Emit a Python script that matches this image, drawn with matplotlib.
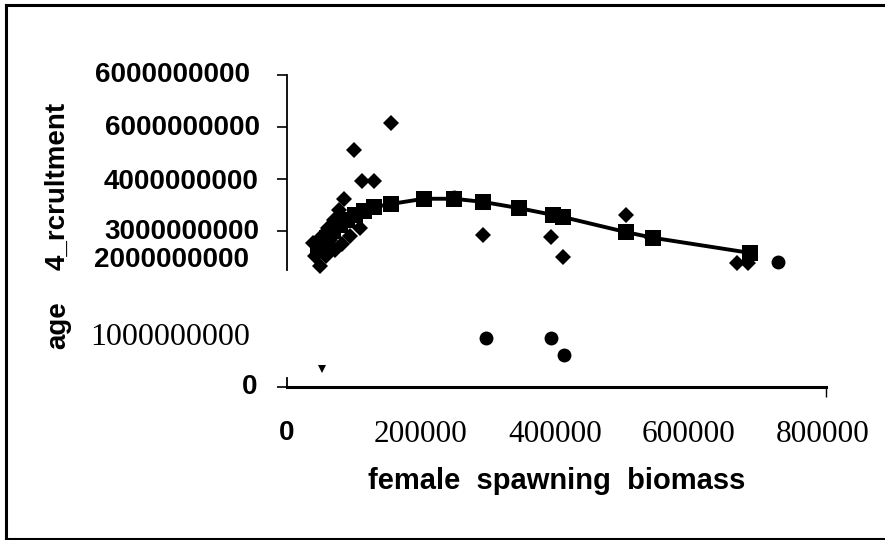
import numpy as np
import matplotlib.pyplot as plt
from matplotlib.lines import Line2D

# fitted curve (squares joined by a line)
fit_biomass = [46300, 52200, 59700, 68700, 79100, 89600, 101500, 114900, 129800, 155200,
               204500, 249200, 292500, 346300, 397000, 411900, 506000, 546300, 691000]
fit_recruit = [2.64e9, 2.75e9, 2.87e9, 3.00e9, 3.12e9, 3.21e9, 3.31e9, 3.39e9, 3.46e9, 3.52e9,
               3.62e9, 3.62e9, 3.56e9, 3.44e9, 3.31e9, 3.27e9, 2.98e9, 2.87e9, 2.58e9]

# observed (diamonds)
obs_biomass = [155000, 100000, 112000, 130000, 85000, 292500, 394000, 412000, 506000, 545000,
               672000, 688000, 38800, 41800, 49300, 52200, 61200, 70100, 77600, 58200,
               71600, 82100, 94000, 109000, 64200]
obs_recruit = [5.08e9, 4.56e9, 3.96e9, 3.96e9, 3.62e9, 2.92e9, 2.88e9, 2.50e9, 3.31e9, 2.87e9,
               2.38e9, 2.38e9, 2.77e9, 2.52e9, 2.33e9, 2.90e9, 3.06e9, 3.21e9, 3.40e9, 2.52e9,
               2.63e9, 2.75e9, 2.90e9, 3.06e9, 2.83e9]

# other series (circles)
circ_biomass = [249200, 297000, 394000, 413400, 732800]
circ_recruit = [3.65e9, 0.94e9, 0.94e9, 0.615e9, 2.40e9]

# odd point (triangle)
tri_biomass = [52200]
tri_recruit = [0.35e9]

xtick_vals = [0, 200000, 400000, 600000, 800000]
xtick_labels = ["0", "200000", "400000", "600000", "800000"]

# y labels as they appear in the scanned chart: (position, text, offset px, serif?)
ylabels = [(6.0e9, "6000000000", 37, False),
           (4.98e9, "6000000000", 27, False),
           (3.94e9, "4000000000", 29, False),
           (2.98e9, "3000000000", 28, False),
           (2.44e9, "2000000000", 38, False),
           (0.96e9, "1000000000", 37, True),
           (0.0, "0", 30, False)]
ytick_vals = [0, 3e9, 4e9, 5e9, 6e9]

sans = "Liberation Sans"
serif = "Liberation Serif"

fig = plt.figure(figsize=(8.85, 5.4), dpi=100)
ax = fig.add_axes([287 / 885, 153 / 540, (826 - 287) / 885, (387 - 75) / 540])

ax.plot(fit_biomass, fit_recruit, color="black", lw=2.8, marker="s", ms=12,
        markeredgewidth=0, zorder=3)
ax.plot(obs_biomass, obs_recruit, linestyle="none", color="black", marker="D", ms=8,
        markeredgewidth=0, zorder=4)
ax.plot(circ_biomass, circ_recruit, linestyle="none", color="black", marker="o", ms=10,
        markeredgewidth=0, zorder=4)
ax.plot(tri_biomass, tri_recruit, linestyle="none", color="black", marker="v", ms=6,
        markeredgewidth=0, zorder=4)

ax.set_xlim(0, 805000)
ax.set_ylim(0, 6e9)

for s in ["top", "right", "left"]:
    ax.spines[s].set_visible(False)
ax.spines["bottom"].set_linewidth(2.2)

# broken y axis line as in the scan
ax.axvline(0, ymin=0.375, ymax=1.0, color="black", lw=1.3, clip_on=False)
ax.axvline(0, ymin=0.0, ymax=0.03, color="black", lw=1.3, clip_on=False)

# y ticks (marks only), labels placed by hand
ax.set_yticks(ytick_vals)
ax.set_yticklabels([])
ax.tick_params(axis="y", direction="out", length=7, width=1.2)
for yv, txt, off, is_serif in ylabels:
    ax.annotate(txt, xy=(0, yv), xycoords=("axes fraction", "data"),
                xytext=(-off * 0.72, 0), textcoords="offset points",
                ha="right", va="center",
                fontfamily=serif if is_serif else sans,
                fontweight="normal" if is_serif else "bold",
                fontsize=23 if is_serif else 20)

# x ticks: labels only, small marks at both ends
ax.set_xticks(xtick_vals)
ax.set_xticklabels(xtick_labels)
ax.tick_params(axis="x", length=0, pad=24)
ax.set_xticks([0, 805000], minor=True)
ax.tick_params(axis="x", which="minor", direction="out", length=7, width=1.0)
for i, lab in enumerate(ax.get_xticklabels()):
    if i == 0:
        lab.set_fontfamily(sans)
        lab.set_fontweight("bold")
        lab.set_fontsize(20)
    else:
        lab.set_fontfamily(serif)
        lab.set_fontsize(22.5)

ax.set_xlabel("female  spawning  biomass", fontfamily=sans, fontweight="bold",
              fontsize=21, labelpad=13)

fig.text(58 / 885, 1 - 186 / 540, "4_rcrultment", rotation=90, ha="center", va="center",
         fontfamily=sans, fontweight="bold", fontsize=20)
fig.text(58 / 885, 1 - 325 / 540, "age", rotation=90, ha="center", va="center",
         fontfamily=sans, fontweight="bold", fontsize=20)

# frame of the scanned figure (top, left, bottom)
fig.add_artist(Line2D([6 / 885, 1.0], [1 - 5 / 540, 1 - 5 / 540], color="black", lw=2.2))
fig.add_artist(Line2D([6 / 885, 6 / 885], [1 - 5 / 540, 1 - 539 / 540], color="black", lw=2.2))
fig.add_artist(Line2D([6 / 885, 1.0], [1 - 539 / 540, 1 - 539 / 540], color="black", lw=1.5))

plt.savefig("out.png", dpi=100)
plt.close()
